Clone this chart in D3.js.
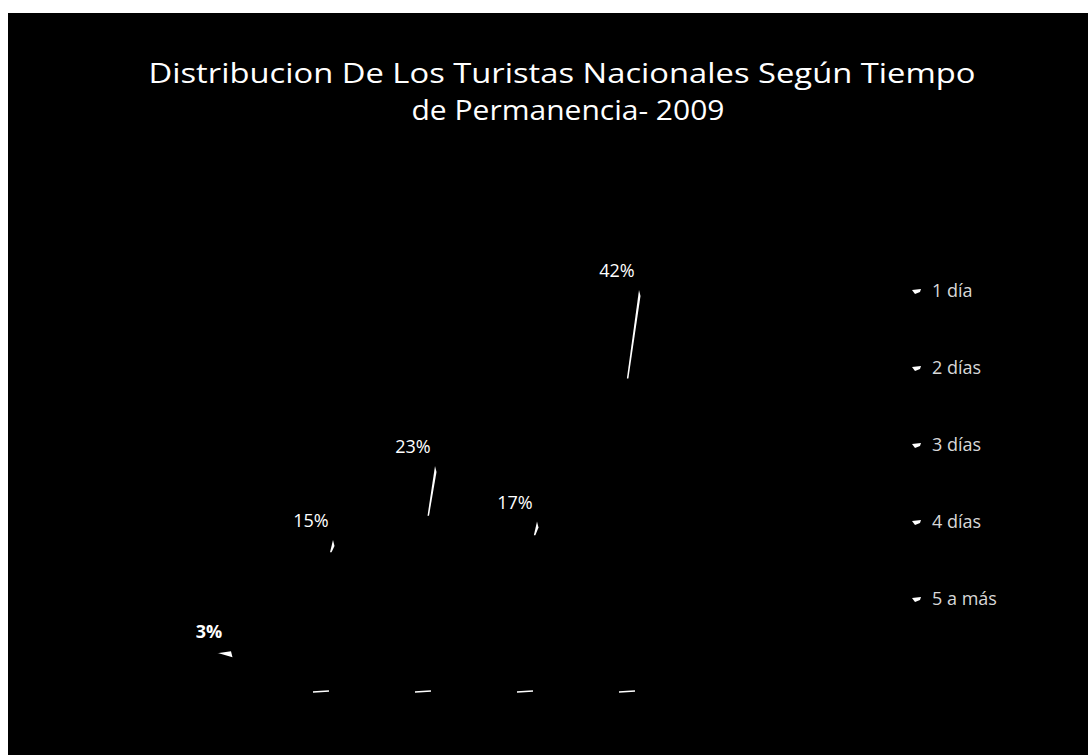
<!DOCTYPE html>
<meta charset="utf-8">
<style>
  body { margin: 0; background: #fff; }
  svg { position: absolute; left: 0; top: 0; }
  text { font-family: 'Open Sans', 'Noto Sans', sans-serif; }
  .title { fill: #fff; font-size: 27px; text-anchor: middle; }
  .val { fill: #fff; font-size: 18px; text-anchor: middle; }
  .leg { fill: #d8d8d8; font-size: 18px; }
</style>
<script src="https://d3js.org/d3.v7.min.js"></script>
<svg width="1088" height="755"></svg>
<script>
var categories = ["1 día", "2 días", "3 días", "4 días", "5 a más"];
var values = [3, 15, 23, 17, 42];
var titleLines = ["Distribucion De Los Turistas Nacionales Según  Tiempo", "de Permanencia- 2009"];

var svg = d3.select("svg");

// black chart area (white strip left/top like the scan)
svg.append("rect").attr("x", 8).attr("y", 13).attr("width", 1080).attr("height", 742).attr("fill", "#000");

svg.selectAll(".title").data(titleLines).enter().append("text")
  .attr("class", "title")
  .attr("x", function(d, i) { return i ? 568 : 562; })
  .attr("y", function(d, i) { return 83 + i * 37; })
  .attr("textLength", function(d, i) { return i ? 313 : 827; })
  .attr("lengthAdjust", "spacingAndGlyphs")
  .text(function(d) { return d; });

var x = d3.scaleBand().domain(categories).range([170, 680]);
var y = d3.scaleLinear().domain([0, 42]).range([679, 290]);
var baseY = 692;

var g = svg.append("g");
var cone = g.selectAll(".cone").data(values).enter().append("g").attr("class", "cone");

// cone body (black on black, as in the scan)
cone.append("path")
  .attr("fill", "#000")
  .attr("d", function(d, i) {
    var cx = x(categories[i]) + x.bandwidth() / 2, ax = cx + 10;
    return "M" + (cx - 38) + "," + baseY + "L" + ax + "," + y(d) + "L" + (cx + 38) + "," + baseY + "Z";
  });

// highlight streak from the apex down the face
cone.append("path")
  .attr("fill", "#fff")
  .attr("d", function(d, i) {
    var cx = x(categories[i]) + x.bandwidth() / 2, ax = cx + 10, ay = y(d);
    var len = (baseY - ay) * (d > 20 ? 0.22 : d > 10 ? 0.08 : 0.05);
    var dx = -len * 0.12 - (d < 5 ? 12 : 0);
    return "M" + ax + "," + ay + "L" + (ax + dx - 1.5) + "," + (ay + len) + "L" + (ax + dx) + "," + (ay + len) + "L" + (ax + 1.5) + "," + (ay + 6) + "Z";
  });

// front edge of the cone base
cone.filter(function(d, i) { return i > 0; }).append("line")
  .attr("stroke", "#fff").attr("stroke-width", 1.5)
  .attr("x1", function(d, i) { return x(categories[i + 1]) + x.bandwidth() / 2 - 10; })
  .attr("x2", function(d, i) { return x(categories[i + 1]) + x.bandwidth() / 2 + 6; })
  .attr("y1", baseY).attr("y2", baseY - 1);

cone.append("text")
  .attr("class", "val")
  .attr("x", function(d, i) { return x(categories[i]) + x.bandwidth() / 2 - 12; })
  .attr("y", function(d) { return y(d) - 13; })
  .style("font-weight", function(d, i) { return i === 0 ? "bold" : null; })
  .text(function(d) { return d + "%"; });

// legend
var leg = svg.selectAll(".legitem").data(categories).enter().append("g")
  .attr("class", "legitem")
  .attr("transform", function(d, i) { return "translate(912," + (297 + i * 77) + ")"; });
leg.append("path").attr("fill", "#fff").attr("d", "M0,-7L9,-8L8,-5L3,-3Z");
leg.append("text").attr("class", "leg").attr("x", 20).attr("y", 0).text(function(d) { return d; });
</script>
